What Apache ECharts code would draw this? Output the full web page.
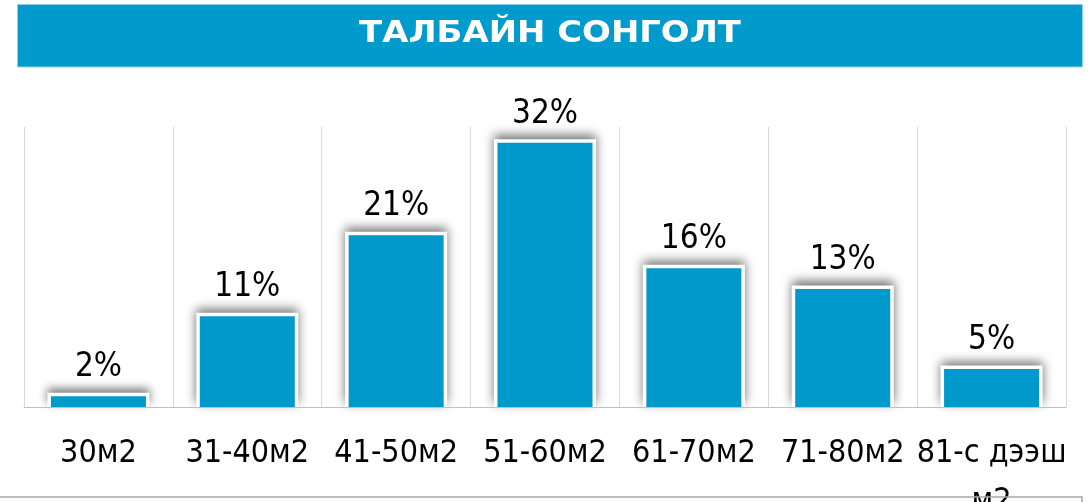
<!DOCTYPE html>
<html>
<head>
<meta charset="utf-8">
<script src="https://cdn.jsdelivr.net/npm/echarts@6/dist/echarts.min.js"></script>
<style>
  html, body { margin: 0; padding: 0; background: #fff; }
  #main { width: 1089px; height: 502px; }
</style>
</head>
<body>
<div id="main"></div>
<script>
// талбайн хэмжээ (ангилал)
const categories = ['30м2', '31-40м2', '41-50м2', '51-60м2', '61-70м2', '71-80м2', '81-с дээш\nм2']
// баганын өндөр (зургаас уншсан, %)
const values = [1.3, 11.0, 20.8, 32, 16.8, 14.3, 4.6]
// баганын дээрх бичиг
const valueLabels = ['2%', '11%', '21%', '32%', '16%', '13%', '5%']
const titleText = 'ТАЛБАЙН СОНГОЛТ'

const blue = '#0099CC'
const font = "'DejaVu Sans Condensed', 'DejaVu Sans', sans-serif"
const barW = 95
const frame = 3.5

const chart = echarts.init(document.getElementById('main'))

// white frame with shadow behind each bar
function renderFrame (params, api) {
  const top = api.coord([api.value(0), api.value(1)])
  const base = api.coord([api.value(0), 0])
  return {
    type: 'rect',
    shape: {
      x: top[0] - barW / 2 - frame,
      y: top[1] - frame,
      width: barW + frame * 2,
      height: base[1] - top[1] + frame
    },
    style: {
      fill: '#fff',
      shadowBlur: 10,
      shadowColor: 'rgba(0,0,0,0.55)',
      shadowOffsetY: -4
    }
  }
}

const option = {
  animation: false,
  backgroundColor: '#fff',
  grid: {
    left: 24,
    right: 23,
    top: 127,
    bottom: 95,
    containLabel: false,
    outerBoundsMode: 'none'
  },
  xAxis: {
    type: 'category',
    data: categories,
    z: 5,
    axisLine: { lineStyle: { color: '#bfbfbf', width: 1 } },
    axisTick: { show: false },
    splitLine: { show: true, lineStyle: { color: '#d9d9d9', width: 1 } },
    axisLabel: {
      interval: 0,
      hideOverlap: false,
      margin: 23,
      color: '#000',
      fontSize: 32,
      lineHeight: 48,
      fontFamily: font
    }
  },
  yAxis: {
    type: 'value',
    min: 0,
    max: 33.9,
    show: false,
    splitLine: { show: false }
  },
  series: [
    {
      type: 'custom',
      z: 1,
      silent: true,
      renderItem: renderFrame,
      data: values.map((v, i) => [i, v])
    },
    {
      type: 'bar',
      z: 2,
      data: values,
      barWidth: barW,
      itemStyle: { color: blue },
      label: {
        show: true,
        position: 'top',
        distance: 12,
        color: '#000',
        fontSize: 33,
        fontFamily: font,
        formatter: p => valueLabels[p.dataIndex]
      }
    }
  ],
  graphic: [
    {
      type: 'rect',
      shape: { x: 17.5, y: 4.5, width: 1065, height: 62.5 },
      style: { fill: '#009BCC', stroke: '#8fd0e8', lineWidth: 1 },
      z: 10
    },
    {
      type: 'text',
      x: 550,
      y: 34,
      scaleX: 1.13,
      style: {
        text: titleText,
        fill: '#fff',
        font: "bold 30px 'DejaVu Sans', sans-serif",
        align: 'center',
        verticalAlign: 'middle'
      },
      z: 11
    },
    {
      type: 'polyline',
      shape: { points: [[0, 497], [1082, 497], [1082, 502]] },
      style: { stroke: '#a6a6a6', lineWidth: 1.5, fill: null },
      z: 100
    }
  ]
}

chart.setOption(option)
</script>
</body>
</html>
